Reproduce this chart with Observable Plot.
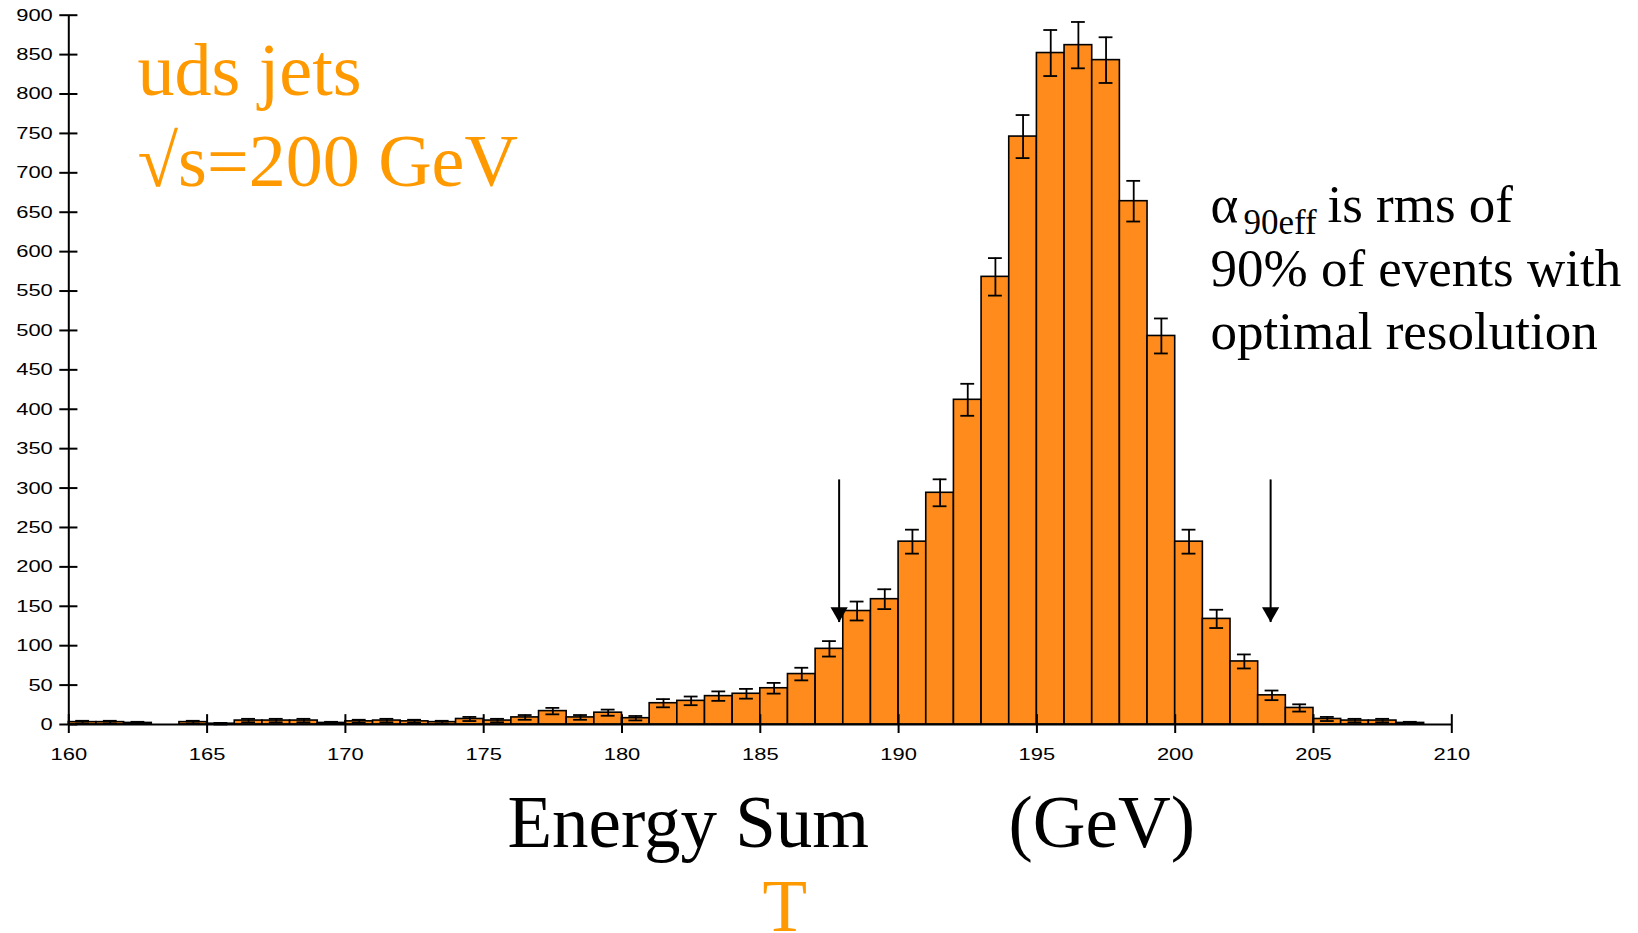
<!DOCTYPE html>
<html>
<head>
<meta charset="utf-8">
<script src="https://cdn.jsdelivr.net/npm/d3@7"></script>
<script src="https://cdn.jsdelivr.net/npm/@observablehq/plot@0.6"></script>
<style>
  html, body { margin: 0; padding: 0; background: #fff; overflow: hidden; }
  #chart svg { display: block; }
</style>
</head>
<body>
<div id="chart"></div>
<script>
// ---- data ----
const binLow = [160,161,162,163,164,165,166,167,168,169,
                170,171,172,173,174,175,176,177,178,179,
                180,181,182,183,184,185,186,187,188,189,
                190,191,192,193,194,195,196,197,198,199,
                200,201,202,203,204,205,206,207,208,209];
const counts = [3,3,2,0,3,1,5,5,5,2,
                4,5,4,3,7,5,9,17,9,15,
                8,27,30,36,39,46,64,96,144,159,
                232,294,412,568,746,852,862,843,664,493,
                232,134,80,37,21,7,5,5,2,0];
const errors = [1.7,1.7,1.4,0,1.7,1,2.2,2.2,2.2,1.4,
                2,2.2,2,1.7,2.6,2.2,3,4.1,3,3.9,
                2.8,5.2,5.5,6,6.2,6.8,8,9.8,12,12.6,
                15.2,17.1,20.3,23.8,27.3,29.2,29.4,29,25.8,22.2,
                15.2,11.6,8.9,6.1,4.6,2.6,2.2,2.2,1.4,0];
const binWidth = 1;
const yTicks = [0,50,100,150,200,250,300,350,400,450,500,550,600,650,700,750,800,850,900];
const xTicks = [160,165,170,175,180,185,190,195,200,205,210];
// 90% interval boundaries marked by arrows (GeV)
const arrowX = [187.85, 203.45];
const arrowFrom = 311;   // counts
const arrowTo = 130;     // counts

const bins = binLow.map((lo, i) => ({lo, hi: lo + binWidth, count: counts[i], err: errors[i]}));
const errBins = bins.filter(d => d.err > 0);
const arrows = arrowX.map(x => ({x}));

// ---- styles ----
const barFill = "#ff8b1c";
const orange = "#ff9900";
const serif = "'Liberation Serif', 'Times New Roman', serif";

function label(text, dx, dy, size, fill) {
  return Plot.text([text], {
    text: d => d, frameAnchor: "top-left", dx, dy,
    textAnchor: "start", lineAnchor: "bottom",
    fontFamily: serif, fontSize: size, fill
  });
}

const chart = Plot.plot({
  width: 1638,
  height: 933,
  marginLeft: 68.3,
  marginRight: 186.7,
  marginTop: 14.7,
  marginBottom: 209,
  x: {domain: [160, 210], label: null},
  y: {domain: [0, 900], label: null},
  style: {fontFamily: "'Liberation Sans', Arial, sans-serif", fontSize: "17px", color: "black", background: "white"},
  marks: [
    Plot.rect(bins, {x1: "lo", x2: "hi", y1: 0, y2: "count", fill: barFill, stroke: "black", strokeWidth: 1.6}),
    Plot.ruleX(errBins, {x: d => d.lo + binWidth / 2, y1: d => d.count - d.err, y2: d => d.count + d.err, stroke: "black", strokeWidth: 1.8}),
    Plot.ruleY(errBins, {y: d => d.count + d.err, x1: d => d.lo + 0.25, x2: d => d.lo + 0.75, stroke: "black", strokeWidth: 1.8}),
    Plot.ruleY(errBins, {y: d => d.count - d.err, x1: d => d.lo + 0.25, x2: d => d.lo + 0.75, stroke: "black", strokeWidth: 1.8}),
    // arrows
    Plot.link(arrows, {x1: "x", x2: "x", y1: arrowFrom, y2: arrowTo, stroke: "black", strokeWidth: 2}),
    Plot.dot(arrows, {x: "x", y: arrowTo, symbol: "triangle", r: 6.4, rotate: 180, dy: -9.8, fill: "black", stroke: "none"}),
    // axes
    Plot.axisY({ticks: yTicks, tickSize: 9, tickPadding: 7, strokeWidth: 2, label: null, fontSize: 17}),
    Plot.axisX({ticks: xTicks, tickSize: 9, tickPadding: 14, strokeWidth: 2, label: null, fontSize: 17}),
    Plot.ruleY(yTicks, {y: d => d, x1: 160, x2: 160.33, stroke: "black", strokeWidth: 2}),
    Plot.ruleX(xTicks, {x: d => d, y1: 0, y2: 12.5, stroke: "black", strokeWidth: 2}),
    Plot.ruleX([160], {y1: 0, y2: 900, stroke: "black", strokeWidth: 2}),
    Plot.ruleY([0], {x1: 160, x2: 210, stroke: "black", strokeWidth: 2}),
    // annotations
    label("uds jets", 68.7, 79.3, 74, orange),
    label("√s=200 GeV", 68.7, 170.3, 74, orange),
    label("α", 1141.7, 206.8, 53, "black"),
    label("90eff", 1174.7, 218.3, 35, "black"),
    label("is rms of", 1258.7, 206.8, 53, "black"),
    label("90% of events with", 1141.7, 270.3, 53, "black"),
    label("optimal resolution", 1141.7, 333.3, 53, "black"),
    label("Energy Sum", 438.7, 832, 73, "black"),
    label("(GeV)", 939.7, 832, 73, "black"),
    label("T", 693.7, 915.3, 73, orange)
  ]
});

// the reference's tick labels are horizontally stretched; widen them in place
d3.select(chart)
  .selectAll('g[aria-label="y-axis tick label"] text, g[aria-label="x-axis tick label"] text')
  .each(function () {
    const t = this.getAttribute("transform");
    if (t) {
      this.setAttribute("transform", t + " scale(1.29,1)");
    } else {
      const x = +this.getAttribute("x") || 0, y = +this.getAttribute("y") || 0;
      this.removeAttribute("x"); this.removeAttribute("y");
      this.setAttribute("transform", `translate(${x},${y}) scale(1.29,1)`);
    }
  });

document.getElementById("chart").appendChild(chart);
</script>
</body>
</html>
